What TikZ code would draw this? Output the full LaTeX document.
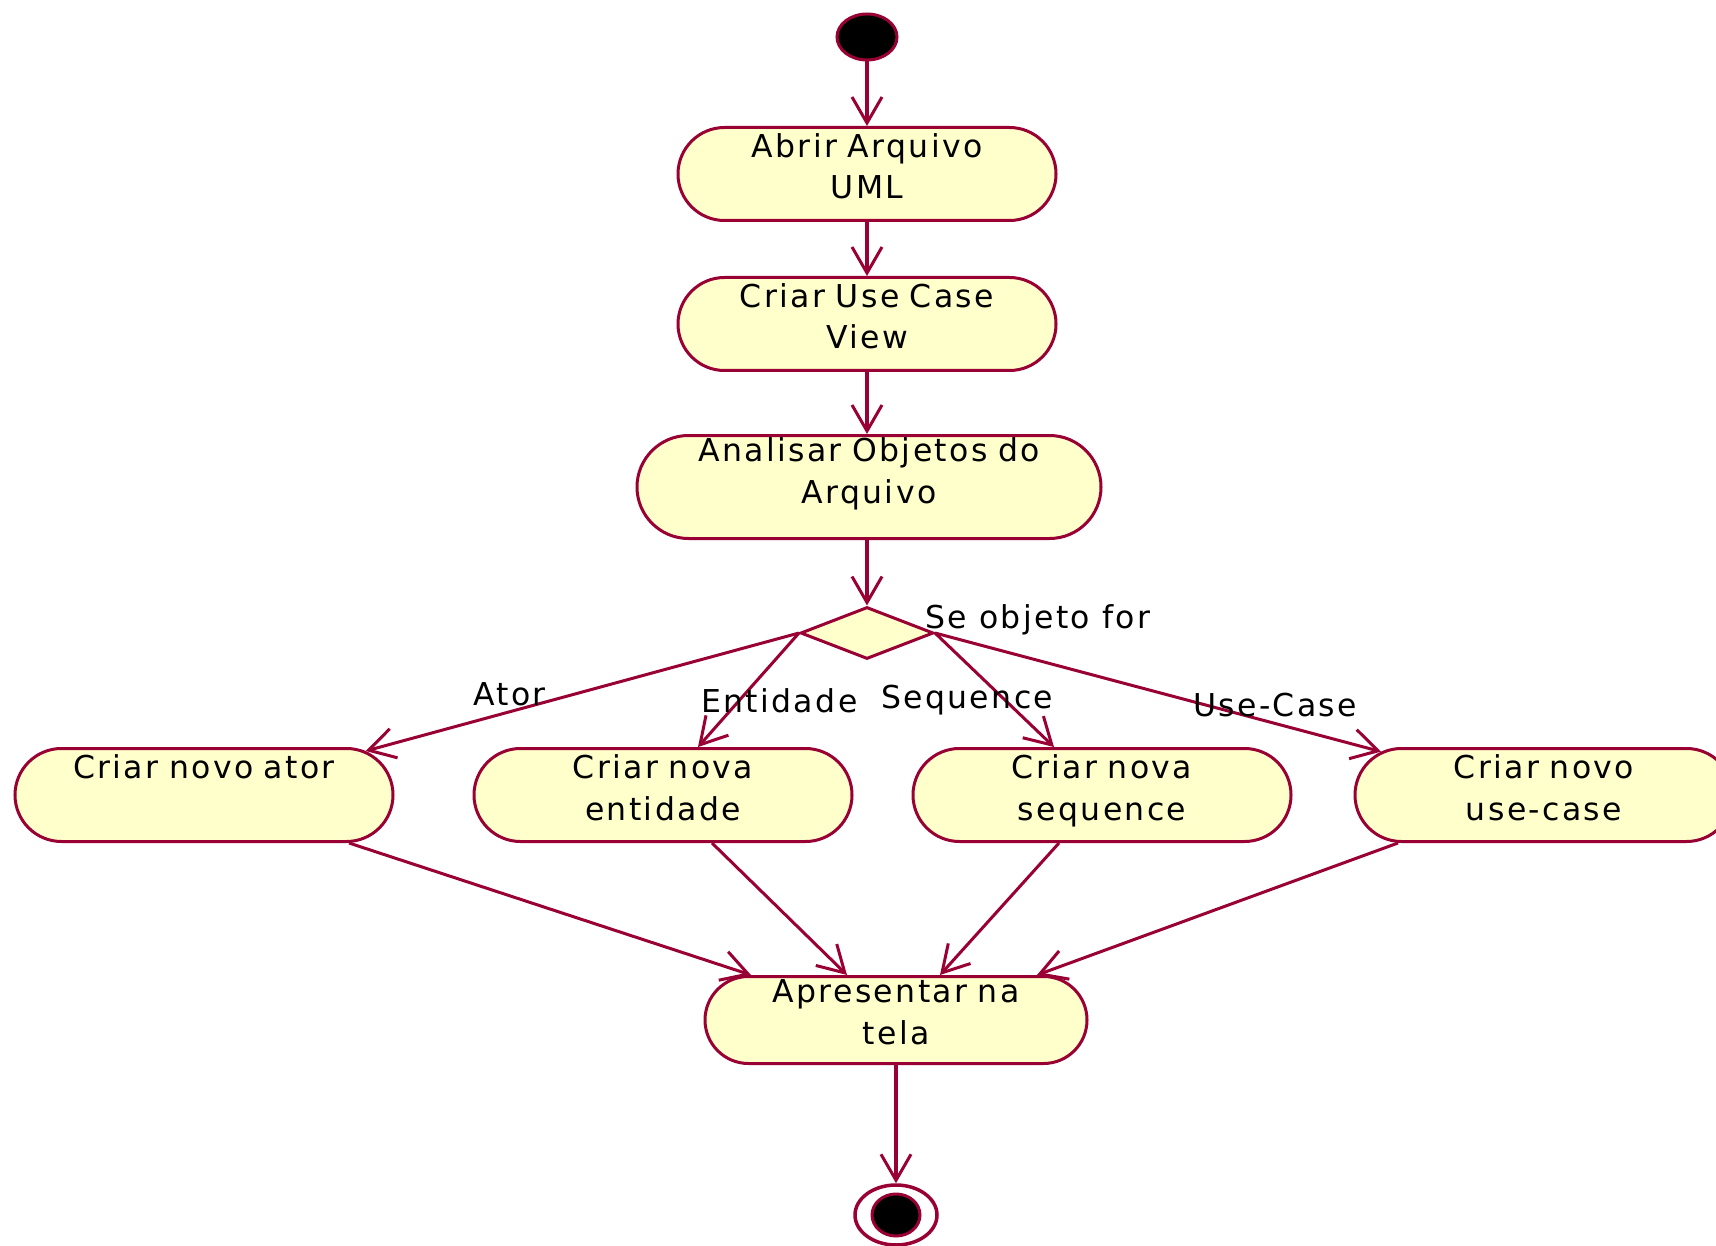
\documentclass[tikz,border=0pt]{standalone}
\usepackage{fontspec}
\setmainfont{DejaVu Sans}[LetterSpace=7.5]
\usetikzlibrary{shapes.misc,shapes.geometric,arrows.meta}
\definecolor{ured}{RGB}{153,0,51}
\definecolor{ufill}{RGB}{255,255,204}
\begin{document}
\begin{tikzpicture}[x=1pt,y=-1pt,
  every node/.style={font=\fontsize{31.5}{41.5}\selectfont, text=black},
  act/.style={rounded rectangle, draw=ured, fill=ufill, line width=3pt,
    inner sep=0pt, align=center, text width=285pt,
    text height=30pt, text depth=63pt},
  decis/.style={diamond, draw=ured, fill=ufill, line width=3pt, inner sep=0pt,
    minimum width=133pt, minimum height=52pt},
  startst/.style={ellipse, draw=ured, fill=black, line width=3pt, inner sep=0pt,
    minimum width=60pt, minimum height=46pt},
  endring/.style={ellipse, draw=ured, line width=3.5pt, inner sep=0pt,
    minimum width=82pt, minimum height=60pt},
  enddot/.style={ellipse, draw=ured, fill=black, line width=3pt, inner sep=0pt,
    minimum width=48pt, minimum height=42pt},
  flow/.style={draw=ured, line width=3pt,
    -{Straight Barb[length=26pt,width=30pt,line width=3pt]}},
  vflow/.style={flow, line width=4.5pt},
  lbl/.style={inner sep=0pt, anchor=base west},
]
\useasboundingbox (0,0) rectangle (1716,1246);
\clip (0,0) rectangle (1716,1246);

% nodes
\node[startst] (start) at (867,37) {};
\node[act] (abrir) at (867,174) {Abrir Arquivo\\UML};
\node[act] (ucv) at (867,324) {Criar Use Case\\View};
\node[act, text width=361pt, text height=26pt, text depth=77pt] (anal) at (869,487) {Analisar Objetos do\\Arquivo};
\node[decis] (dec) at (867,633) {};

\node[act] (ator) at (204,795) {Criar novo ator};
\node[act] (ent) at (663,795) {Criar nova\\entidade};
\node[act] (seq) at (1102,795) {Criar nova\\sequence};
\node[act] (uc) at (1544,795) {Criar novo\\use-case};

\node[act, text width=295pt, text height=26pt, text depth=61pt] (apres) at (896,1020) {Apresentar na\\tela};

\node[endring] (fim) at (896,1215) {};
\node[enddot] (fimin) at (fim.center) {};

% connectors
\draw[vflow] (start) -- (abrir);
\draw[vflow] (abrir) -- (ucv);
\draw[vflow] (ucv) -- (anal.north -| ucv.south);
\draw[vflow] (anal.south -| dec.north) -- (dec);

\draw[flow] (dec.west) -- (ator);
\draw[flow] (dec.west) -- ([xshift=35pt]ent.north);
\draw[flow] (dec.east) -- ([xshift=-48pt]seq.north);
\draw[flow] (dec.east) -- (uc);

\draw[flow] ([xshift=145pt]ator.south) -- ([xshift=-145pt]apres.north);
\draw[flow] ([xshift=49pt]ent.south) -- ([xshift=-49pt]apres.north);
\draw[flow] ([xshift=-43pt]seq.south) -- ([xshift=44pt]apres.north);
\draw[flow] ([xshift=-146pt]uc.south) -- ([xshift=141pt]apres.north);

\draw[vflow] (apres.south -| fim.north) -- (fim);

% labels
\node[lbl] (lse) at (925,628) {Se objeto for};
\node[lbl] (lator) at (473,705) {Ator};
\node[lbl] (lent) at (701,712) {Entidade};
\node[lbl] (lseq) at (881,708) {Sequence};
\node[lbl] (luc) at (1193,716) {Use-Case};
\end{tikzpicture}
\end{document}
